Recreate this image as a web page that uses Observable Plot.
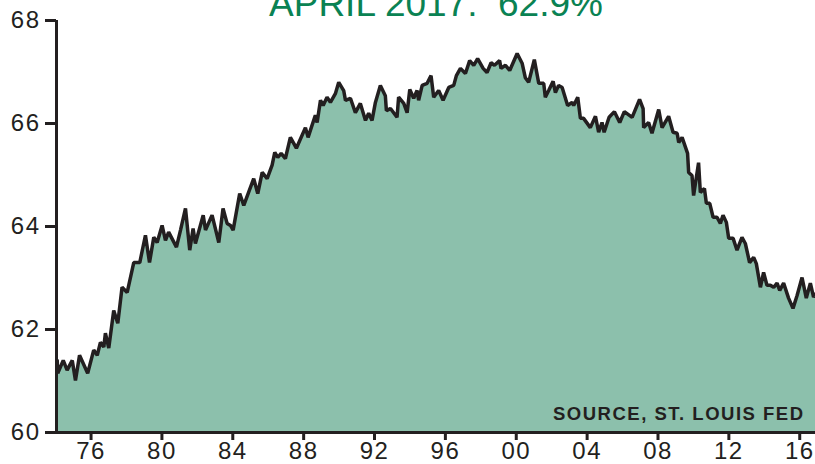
<!DOCTYPE html>
<html>
<head>
<meta charset="utf-8">
<script src="https://cdn.jsdelivr.net/npm/d3@7"></script>
<script src="https://cdn.jsdelivr.net/npm/@observablehq/plot@0.6"></script>
<style>
  html, body { margin: 0; padding: 0; background: #fff; }
  #chart svg { display: block; }
</style>
</head>
<body>
<div id="chart"></div>
<script>
// Labor force participation rate (%)
const years = [
  1974.09, 1974.12, 1974.43, 1974.65, 1974.94, 1975.12, 1975.35, 1975.81, 1976.15, 1976.35,
  1976.53, 1976.72, 1976.81, 1977.00, 1977.28, 1977.51, 1977.75, 1978.04, 1978.41, 1978.75,
  1979.07, 1979.30, 1979.54, 1979.73, 1980.01, 1980.20, 1980.38, 1980.82, 1981.05, 1981.33,
  1981.57, 1981.76, 1981.89, 1982.33, 1982.46, 1982.83, 1983.21, 1983.45, 1983.68, 1983.87,
  1984.02, 1984.39, 1984.62, 1985.18, 1985.41, 1985.66, 1985.94, 1986.22, 1986.37, 1986.54,
  1986.73, 1986.97, 1987.25, 1987.59, 1988.10, 1988.25, 1988.66, 1988.76, 1988.95, 1989.10,
  1989.32, 1989.51, 1989.79, 1989.98, 1990.26, 1990.36, 1990.64, 1990.92, 1991.20, 1991.49,
  1991.67, 1991.86, 1992.05, 1992.33, 1992.61, 1992.67, 1992.90, 1993.27, 1993.36, 1993.65,
  1993.84, 1993.99, 1994.21, 1994.40, 1994.49, 1994.69, 1994.97, 1995.19, 1995.34, 1995.62,
  1995.87, 1996.19, 1996.47, 1996.62, 1996.85, 1997.13, 1997.37, 1997.60, 1997.82, 1998.13,
  1998.35, 1998.58, 1998.77, 1999.06, 1999.14, 1999.39, 1999.63, 2000.05, 2000.33, 2000.51,
  2000.70, 2001.02, 2001.27, 2001.55, 2001.64, 2001.83, 2002.08, 2002.21, 2002.39, 2002.59,
  2002.90, 2003.15, 2003.24, 2003.47, 2003.62, 2003.80, 2004.18, 2004.47, 2004.65, 2004.84,
  2004.96, 2005.24, 2005.54, 2005.84, 2006.10, 2006.54, 2006.96, 2007.16, 2007.19, 2007.47,
  2007.66, 2008.04, 2008.23, 2008.60, 2008.85, 2009.08, 2009.17, 2009.36, 2009.67, 2009.73,
  2009.92, 2010.01, 2010.29, 2010.39, 2010.62, 2010.73, 2010.92, 2011.11, 2011.33, 2011.52,
  2011.67, 2011.86, 2011.99, 2012.24, 2012.46, 2012.74, 2012.93, 2013.17, 2013.40, 2013.55,
  2013.78, 2013.96, 2014.15, 2014.34, 2014.53, 2014.72, 2014.87, 2015.09, 2015.37, 2015.62,
  2015.85, 2016.13, 2016.37, 2016.60, 2016.78, 2017.05, 2017.25
];
const rates = [
  61.40, 61.15, 61.40, 61.21, 61.40, 61.01, 61.50, 61.15, 61.60, 61.50,
  61.75, 61.66, 61.93, 61.64, 62.37, 62.12, 62.82, 62.72, 63.30, 63.30,
  63.83, 63.30, 63.79, 63.69, 64.02, 63.73, 63.89, 63.60, 63.93, 64.35,
  63.54, 63.96, 63.67, 64.22, 63.93, 64.22, 63.69, 64.35, 64.06, 64.02,
  63.93, 64.64, 64.41, 64.93, 64.64, 65.05, 64.93, 65.19, 65.44, 65.34,
  65.42, 65.32, 65.73, 65.52, 65.92, 65.73, 66.16, 66.02, 66.45, 66.35,
  66.51, 66.41, 66.58, 66.80, 66.64, 66.45, 66.49, 66.21, 66.39, 66.06,
  66.20, 66.06, 66.41, 66.74, 66.54, 66.25, 66.29, 66.12, 66.51, 66.39,
  66.21, 66.66, 66.49, 66.64, 66.45, 66.74, 66.78, 66.93, 66.51, 66.64,
  66.45, 66.70, 66.74, 66.93, 67.07, 66.97, 67.22, 67.13, 67.26, 67.07,
  66.99, 67.18, 67.13, 67.22, 67.07, 67.13, 67.03, 67.36, 67.17, 66.89,
  66.80, 67.24, 66.78, 66.78, 66.51, 66.64, 66.82, 66.60, 66.74, 66.70,
  66.35, 66.41, 66.35, 66.51, 66.10, 66.10, 65.92, 66.14, 65.83, 66.02,
  65.83, 66.12, 66.23, 66.02, 66.23, 66.12, 66.47, 66.29, 65.92, 66.02,
  65.81, 66.27, 65.92, 66.14, 65.83, 65.81, 65.63, 65.73, 65.42, 65.05,
  64.99, 64.60, 65.24, 64.66, 64.74, 64.45, 64.45, 64.18, 64.18, 64.06,
  64.22, 64.08, 63.77, 63.77, 63.54, 63.79, 63.67, 63.30, 63.40, 63.28,
  62.82, 63.11, 62.86, 62.86, 62.82, 62.90, 62.76, 62.90, 62.61, 62.41,
  62.66, 63.01, 62.61, 62.90, 62.63, 62.76, 62.90
];
const yTicks = [60, 62, 64, 66, 68];
const xTicks = [1976, 1980, 1984, 1988, 1992, 1996, 2000, 2004, 2008, 2012, 2016];
const titleText = "APRIL 2017:\u00a0 62.9%";
const sourceText = "SOURCE, ST. LOUIS FED";

const data = years.map((year, i) => ({year, value: rates[i]}));
const ink = "#231f20";

const chart = Plot.plot({
  width: 815,
  height: 464,
  marginLeft: 56,
  marginRight: 0,
  marginTop: 20,
  marginBottom: 32,
  style: {fontFamily: "'Liberation Sans', Arial, sans-serif", color: ink, background: "#fff", overflow: "visible"},
  x: {domain: [1974.05, 2016.89]},
  y: {domain: [60, 68]},
  marks: [
    Plot.areaY(data, {x: "year", y1: 60, y2: "value", fill: "#8cc0ac", clip: true}),
    Plot.lineY(data, {x: "year", y: "value", stroke: ink, strokeWidth: 3.5, strokeLinejoin: "miter", clip: true}),
    Plot.ruleX([1974.05], {stroke: ink, strokeWidth: 3}),
    Plot.ruleY([60], {stroke: ink, strokeWidth: 3}),
    Plot.axisY({ticks: yTicks, tickSize: 11, tickPadding: 5, fontSize: 24, strokeWidth: 3, label: null, tickFormat: d => String(d)}),
    Plot.axisX({ticks: xTicks, tickSize: 8, tickPadding: 1, fontSize: 24, strokeWidth: 3, label: null,
      tickFormat: d => String(d % 100).padStart(2, "0")}),
    Plot.text([titleText], {frameAnchor: "top", lineAnchor: "bottom", dy: -5, fontSize: 37, fill: "#0a8253"}),
    Plot.text([sourceText], {frameAnchor: "bottom-right", lineAnchor: "bottom", dx: -11, dy: -13, fontSize: 18.5, fontWeight: "bold", fill: ink})
  ]
});

const sel = d3.select(chart).selectAll("text");
sel.filter(function() { return this.textContent === sourceText; }).style("letter-spacing", "1.5px");
sel.filter(function() { return /^\d\d$/.test(this.textContent); }).style("letter-spacing", "1.5px");
document.getElementById("chart").appendChild(chart);
</script>
</body>
</html>
